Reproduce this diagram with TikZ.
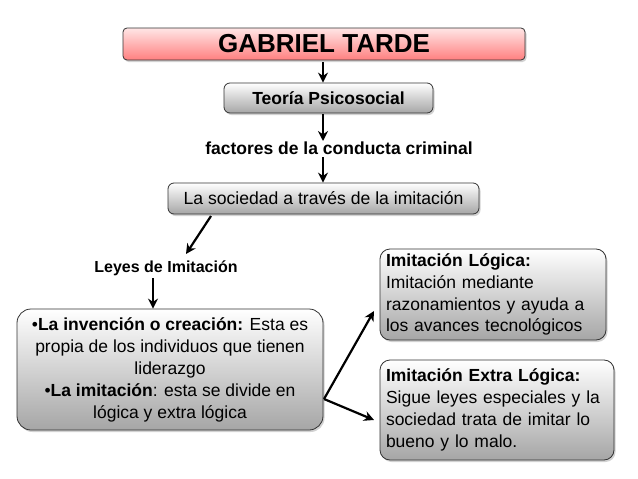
\documentclass[tikz,border=0pt]{standalone}
\usepackage{fontspec}
\setmainfont{Liberation Sans}
\usetikzlibrary{shadows,arrows.meta}
\begin{document}
\begin{tikzpicture}[x=1pt,y=-1pt,
  box/.style={draw=black!80, line width=0.8pt, rounded corners=6pt, top color=white, bottom color=black!35, drop shadow={shadow xshift=1.5pt,shadow yshift=-2pt,opacity=0.35}, inner sep=0pt},
  conn/.style={-{Stealth[length=10pt,width=10pt]}, line width=2.2pt},
  lbl/.style={font=\bfseries, inner sep=0pt}]
\useasboundingbox (0,0) rectangle (638,479);
\fill[white] (0,0) rectangle (638,479);
\node[box, rounded corners=4pt, top color=red!10, bottom color=red!50!white, minimum width=402pt, minimum height=32pt, font=\fontsize{26}{28}\selectfont\bfseries] (gt) at (324,44) {GABRIEL TARDE};
\node[box, minimum width=209pt, minimum height=30pt, font=\fontsize{17.5}{20}\selectfont\bfseries] (tp) at (328.5,98) {Teoría Psicosocial};
\node[lbl, font=\fontsize{17.5}{20}\selectfont\bfseries] (fc) at (339,148) {factores de la conducta criminal};
\node[box, minimum width=311pt, minimum height=31pt, font=\fontsize{17.6}{20}\selectfont] (ls) at (323.5,198.5) {La sociedad a través de la imitación};
\node[lbl, font=\fontsize{16}{18}\selectfont\bfseries] (li) at (166,268) {Leyes de Imitación};
\node[box, rounded corners=14pt, minimum width=306pt, minimum height=121pt, align=center, font=\fontsize{17.5}{22}\selectfont] (big) at (170,369.5) {•\textbf{La invención o creación:} Esta es\\propia de los individuos que tienen\\liderazgo\\•\textbf{La imitación}: esta se divide en\\lógica y extra lógica};
\node[box, rounded corners=10pt, minimum width=226pt, minimum height=91pt, align=left, text width=214pt, font=\fontsize{17.5}{21.8}\selectfont] (il) at (493,294.5) {\textbf{Imitación Lógica:}\\Imitación mediante\\razonamientos y ayuda a\\los avances tecnológicos};
\node[box, rounded corners=10pt, minimum width=234pt, minimum height=100pt, align=left, text width=222pt, font=\fontsize{17.5}{22}\selectfont] (ie) at (497,410) {\textbf{Imitación Extra Lógica:}\\Sigue leyes especiales y la\\sociedad trata de imitar lo\\bueno y lo malo.};
\coordinate (b1) at (324,399);
\draw[conn] (323,62) -- (tp.north -| 323,0);
\draw[conn] (323,114) -- (323,141);
\draw[conn] (323,157) -- (ls.north -| 323,0);
\draw[conn] (211,216) -- (186,254);
\draw[conn] (153,278) -- (big.north -| 153,0);
\draw[conn] (b1) -- (374,311);
\draw[conn] (b1) -- (374,420);
\end{tikzpicture}
\end{document}
